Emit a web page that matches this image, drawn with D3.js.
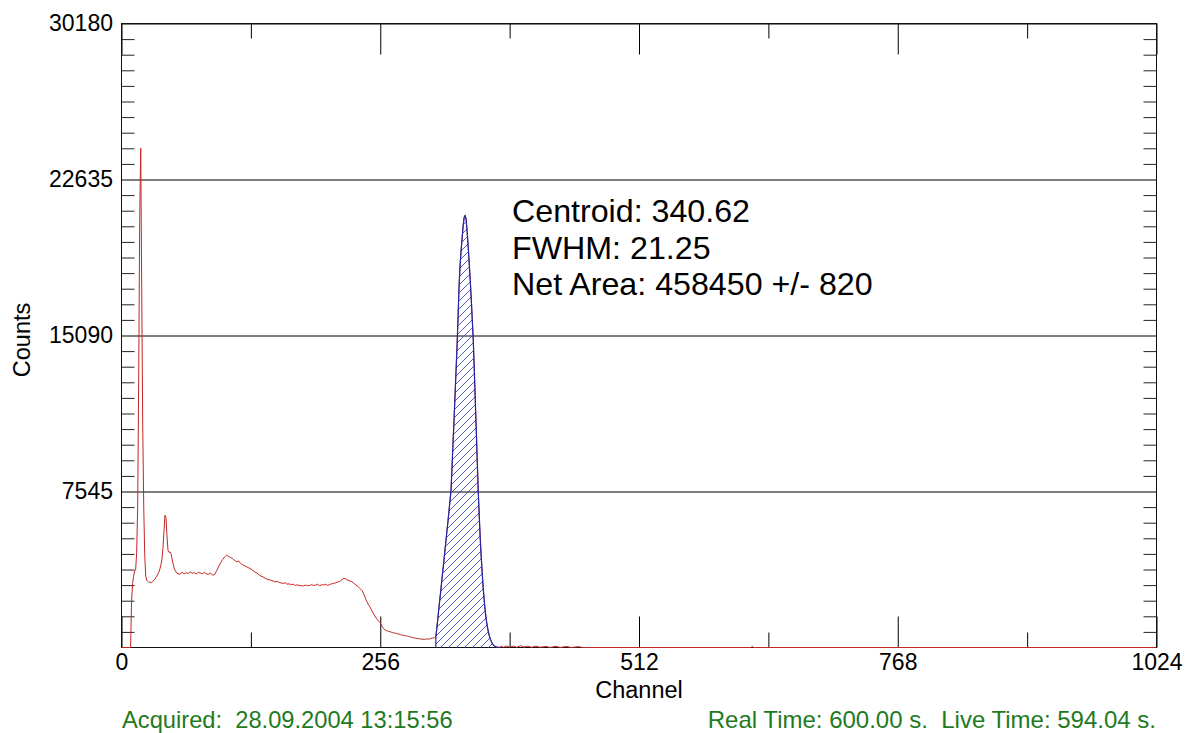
<!DOCTYPE html>
<html><head><meta charset="utf-8">
<script src="https://cdn.jsdelivr.net/npm/d3@7"></script>
<style>
body{margin:0;background:#fff}
text{font-family:"Liberation Sans",Arial,Helvetica,sans-serif}
</style>
</head><body>
<svg id="chart" width="1187" height="733"></svg>
<script>
// ---- data ----
const channels = [0,9,10,11,12,13,14,15,16,17,18,19,20,21,22,23,24,25,26,27,28,29,30,31,32,33,34,35,36,37,38,39,40,41,42,43,44,45,46,47,48,49,50,51,52,53,54,55,56,57,58,60,62,64,66,68,70,72,74,76,78,80,82,84,86,88,90,92,94,96,98,100,102,104,106,108,110,112,114,116,118,120,122,124,126,128,130,132,134,136,138,140,142,144,146,148,150,152,154,156,158,160,162,164,166,168,170,172,174,176,178,180,182,184,186,188,190,192,194,196,198,200,202,204,206,208,210,212,214,216,218,220,222,224,226,228,230,232,234,236,238,240,242,244,246,248,250,252,254,256,258,260,262,264,266,268,270,272,274,276,278,280,282,284,286,288,290,292,294,296,298,300,302,304,306,308,310,311,312,313,314,315,316,317,318,319,320,321,322,323,324,325,326,327,328,329,330,331,332,333,334,335,336,337,338,339,340,341,342,343,344,345,346,347,348,349,350,351,352,353,354,355,356,357,358,359,360,361,362,363,364,365,366,367,368,369,370,371,372,373,374,376,378,381,384,388,391,395,398,402,406,410,414,420,424,430,434,440,445,452,456,623,624,625,1023];
const counts = [0,0,2290,3100,3450,3700,3750,4600,6800,12900,20700,24150,17400,10660,6800,4450,3450,3250,3200,3150,3170,3130,3170,3200,3260,3300,3380,3450,3560,3650,3800,4000,4250,4800,5600,6400,6300,5400,4700,4600,4620,4550,4300,4050,3850,3740,3650,3580,3600,3520,3560,3640,3560,3620,3580,3660,3590,3620,3560,3640,3600,3570,3630,3560,3540,3600,3500,3520,3700,3900,4100,4250,4380,4470,4400,4350,4300,4200,4150,4180,4060,4000,3950,3900,3850,3800,3720,3650,3600,3520,3450,3420,3350,3300,3280,3250,3220,3170,3200,3150,3120,3100,3130,3060,3080,3040,3060,3000,3030,3000,2990,2980,3020,2990,3000,3040,3000,3020,3060,2990,3030,3030,3060,3000,3050,3080,3100,3130,3170,3200,3280,3340,3320,3250,3220,3180,3100,3020,2950,2850,2750,2560,2300,2100,1950,1750,1580,1420,1300,1200,1000,880,820,780,760,720,700,680,650,620,600,580,560,530,510,480,460,440,430,410,400,390,420,400,440,460,480,500,950,1400,1900,2350,2800,3300,3750,4200,4700,5150,5650,6100,6600,7100,7600,8700,9900,11000,12200,13400,14600,16000,17500,18500,19200,19800,20400,20800,20900,20700,20100,19400,18600,17800,16900,15900,14900,13500,12000,10500,9000,7500,6300,5200,4300,3500,2800,2200,1700,1300,1000,750,550,400,280,180,110,70,40,25,15,10,5,60,10,80,20,70,10,90,20,60,10,70,10,50,0,60,0,50,0,40,0,0,60,0,0];
const roiRange = [311, 374];
const xMajorTicks = [0, 256, 512, 768, 1024];
const xMinorTicks = [128, 384, 640, 896];
const yMajorTicks = [7545, 15090, 22635, 30180];
const yMinorTicks = d3.range(1, 40).filter(k => k % 10 !== 0).map(k => k * 754.5);
const annotationLines = ["Centroid: 340.62", "FWHM: 21.25", "Net Area: 458450 +/- 820"];
const acquiredText = "Acquired:  28.09.2004 13:15:56";
const timeText = "Real Time: 600.00 s.  Live Time: 594.04 s.";
const xTitle = "Channel";
const yTitle = "Counts";

// ---- drawing ----
const svg = d3.select("#chart");
const L = 121.5, R = 1156.5, T = 23.5, B = 647.5;
const x = d3.scaleLinear().domain([0, 1024]).range([L, R]);
const y = d3.scaleLinear().domain([0, 30180]).range([B, T]);
const W = R - L;

const spectrum = channels.map((c, i) => ({c, v: counts[i]}));
const roi = spectrum.filter(d => d.c >= roiRange[0] && d.c <= roiRange[1]);

// hatch pattern
const defs = svg.append("defs");
const pat = defs.append("pattern").attr("id", "hatch").attr("patternUnits", "userSpaceOnUse")
  .attr("width", 8).attr("height", 8);
pat.append("path").attr("d", "M-2,2 l4,-4 M0,8 l8,-8 M6,10 l4,-4")
  .attr("stroke", "#3a4cc0").attr("stroke-width", 0.9).attr("fill", "none");

// gridlines (left axis with full width ticks)
const grid = svg.append("g").attr("transform", `translate(${L},0)`)
  .call(d3.axisLeft(y).tickValues(yMajorTicks).tickSize(-W).tickPadding(8.5).tickFormat(d3.format("d")));
grid.select(".domain").remove();
grid.selectAll("line").attr("stroke", "#000");
grid.selectAll("text").attr("font-size", 23).attr("fill", "#000").attr("font-family", "Liberation Sans, Arial, sans-serif");

// left minor ticks
const lm = svg.append("g").attr("transform", `translate(${L},0)`)
  .call(d3.axisLeft(y).tickValues(yMinorTicks).tickSize(-13).tickFormat(""));
lm.select(".domain").remove();
lm.selectAll("line").attr("stroke", "#222");
// right minor ticks
const rm = svg.append("g").attr("transform", `translate(${R},0)`)
  .call(d3.axisRight(y).tickValues(yMinorTicks).tickSize(-13).tickFormat(""));
rm.select(".domain").remove();
rm.selectAll("line").attr("stroke", "#222");

// bottom axis
const bMaj = svg.append("g").attr("transform", `translate(0,${B})`)
  .call(d3.axisBottom(x).tickValues(xMajorTicks).tickSize(-31).tickPadding(6).tickFormat(d3.format("d")));
bMaj.select(".domain").remove();
bMaj.selectAll("line").attr("stroke", "#000");
bMaj.selectAll("text").attr("font-size", 23).attr("fill", "#000").attr("font-family", "Liberation Sans, Arial, sans-serif");
const bMin = svg.append("g").attr("transform", `translate(0,${B})`)
  .call(d3.axisBottom(x).tickValues(xMinorTicks).tickSize(-15).tickFormat(""));
bMin.select(".domain").remove();
bMin.selectAll("line").attr("stroke", "#000");
// top axis
const tMaj = svg.append("g").attr("transform", `translate(0,${T})`)
  .call(d3.axisTop(x).tickValues(xMajorTicks).tickSize(-31).tickFormat(""));
tMaj.select(".domain").remove();
tMaj.selectAll("line").attr("stroke", "#000");
const tMin = svg.append("g").attr("transform", `translate(0,${T})`)
  .call(d3.axisTop(x).tickValues(xMinorTicks).tickSize(-15).tickFormat(""));
tMin.select(".domain").remove();
tMin.selectAll("line").attr("stroke", "#000");

// frame
svg.append("rect").attr("x", L).attr("y", T).attr("width", W).attr("height", B - T)
  .attr("fill", "none").attr("stroke", "#111").attr("stroke-width", 1);

// spectrum line
const line = d3.line().x(d => x(d.c)).y(d => y(d.v));
svg.append("path").datum(spectrum).attr("d", line)
  .attr("fill", "none").attr("stroke", "#c42626").attr("stroke-width", 1).attr("stroke-linejoin", "round");

// ROI hatched area
const area = d3.area().x(d => x(d.c)).y0(y(0)).y1(d => y(d.v));
svg.append("path").datum(roi).attr("d", area).attr("fill", "url(#hatch)").attr("stroke", "none");
svg.append("path").datum(roi).attr("d", line)
  .attr("fill", "none").attr("stroke", "#2426a6").attr("stroke-width", 1.2).attr("stroke-linejoin", "round");
svg.append("line").attr("x1", x(roiRange[0])).attr("x2", x(roiRange[0]))
  .attr("y1", y(0)).attr("y2", y(roi[0].v)).attr("stroke", "#2426a6").attr("stroke-width", 1.2);

// annotation
svg.append("g").selectAll("text").data(annotationLines).join("text")
  .attr("x", 512).attr("y", (d, i) => 222 + i * 36.5)
  .attr("font-size", 32.2).attr("fill", "#000").text(d => d);

// axis titles
svg.append("text").attr("x", 639).attr("y", 698).attr("text-anchor", "middle")
  .attr("font-size", 23.5).attr("fill", "#000").text(xTitle);
svg.append("text").attr("transform", "translate(30,340) rotate(-90)").attr("text-anchor", "middle")
  .attr("font-size", 23.5).attr("fill", "#000").text(yTitle);

// footer
svg.append("text").attr("x", 122).attr("y", 728).attr("font-size", 23.7).attr("fill", "#1f7a1f")
  .style("white-space", "pre").text(acquiredText);
svg.append("text").attr("x", 1156).attr("y", 728).attr("text-anchor", "end").attr("font-size", 24).attr("fill", "#1f7a1f")
  .style("white-space", "pre").text(timeText);
</script>
</body></html>
